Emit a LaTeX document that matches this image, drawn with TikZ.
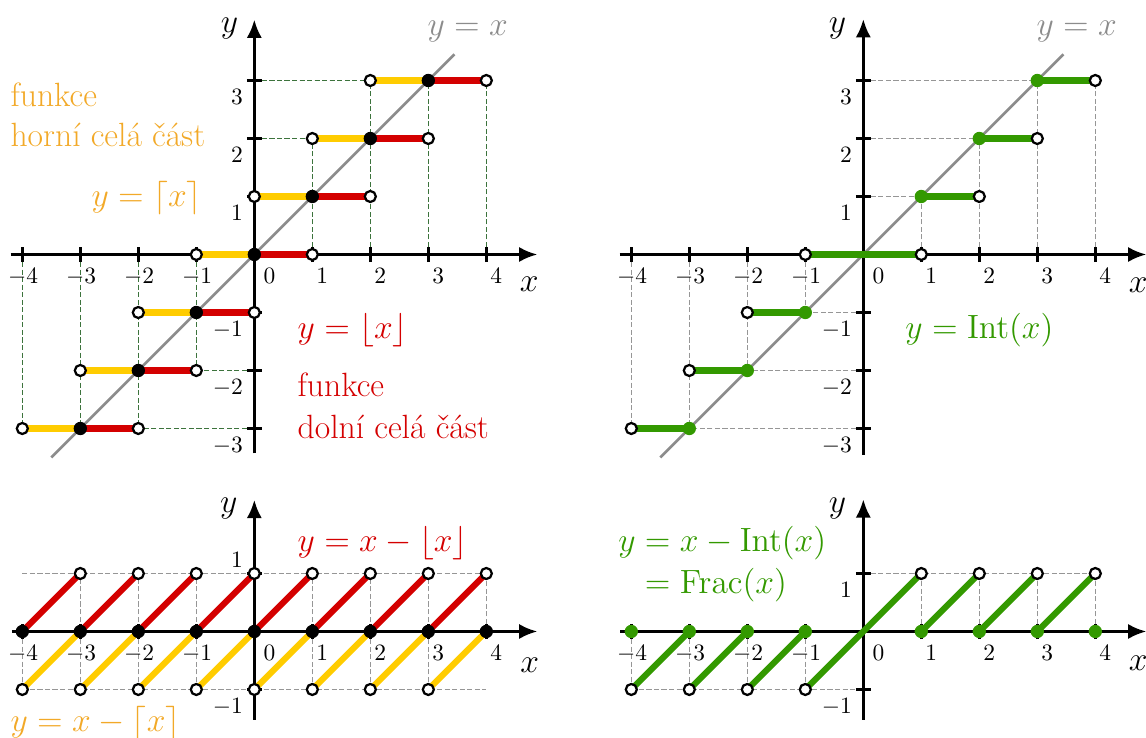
\RequirePackage{fix-cm}
\documentclass[tikz,border=0pt]{standalone}
\usetikzlibrary{arrows.meta}
\definecolor{cyel}{RGB}{255,204,0}
\definecolor{cred}{RGB}{212,0,0}
\definecolor{cgreen}{RGB}{51,153,0}
\definecolor{corange}{RGB}{242,169,40}
\definecolor{cgray}{RGB}{140,140,140}
\definecolor{cdgreen}{RGB}{60,115,60}
\definecolor{cdgray}{RGB}{150,150,150}
\tikzset{
  axisline/.style={line width=1.5pt,-{Latex[length=9pt,width=7.5pt]}},
  tk/.style={line width=1.5pt},
  diagline/.style={line width=1.3pt,draw=cgray},
  seg/.style={line width=3pt},
  gridg/.style={line width=0.45pt,draw=cdgreen,dash pattern=on 2.5pt off 1.2pt},
  gridk/.style={line width=0.45pt,draw=cdgray,dash pattern=on 2.5pt off 1.2pt},
  odot/.style={draw=black,fill=white,line width=1.1pt},
  ticklab/.style={inner sep=0pt,font=\fontsize{11.5}{14}\selectfont},
  lab/.style={inner sep=0pt,font=\fontsize{16.5}{20.5}\selectfont},
}
\begin{document}
\begin{tikzpicture}[x=1cm,y=1cm]
\useasboundingbox (-4.385,-8.336) rectangle (15.374,4.388);

% ================= TOP LEFT: floor / ceiling =================
\begin{scope}
  \foreach \k/\e in {-4/-3,-3/-3,-2/-3,-1/-2,1/2,2/3,3/3,4/3}
    \draw[gridg] (\k,0) -- (\k,\e);
  \foreach \k/\s in {-3/-4,-2/-3,2/1,3/2}
    \draw[gridg] (0,\k) -- (\s,\k);
  \draw[gridg] (0,3) -- (4,3);
  \draw[axisline] (-4.2,0) -- (4.88,0);
  \draw[axisline] (0,-3.43) -- (0,4.05);
  \foreach \k in {-4,-3,-2,-1,1,2,3,4} \draw[tk] (\k,-0.13) -- (\k,0.13);
  \foreach \k in {-3,-2,-1,1,2,3} \draw[tk] (-0.13,\k) -- (0.13,\k);
  \foreach \k in {1,2,3,4} \node[ticklab,anchor=north] (tlxp\k) at (\k+0.17,-0.23) {$\k$};
  \foreach \k in {1,2,3,4} \node[ticklab,anchor=north] (tlxm\k) at (-\k+0.17,-0.23) {\llap{$-$}$\k$};
  \node[ticklab,anchor=north] (tlx0) at (0.26,-0.23) {$0$};
  \foreach \k in {1,2,3} \node[ticklab,anchor=north east] (tlyp\k) at (-0.19,\k-0.14) {$\k$};
  \foreach \k in {1,2,3} \node[ticklab,anchor=north east] (tlym\k) at (-0.19,-\k-0.14) {$-\k$};
  \node[lab] (tlxl) at (4.74,-0.52) {$x$};
  \node[lab] (tlyl) at (-0.43,3.89) {$y$};
  \draw[diagline] (-3.5,-3.5) -- (3.45,3.45);
  \foreach \n in {-3,...,3} {
    \draw[seg,cyel] (\n-1,\n) -- (\n,\n);
    \draw[seg,cred] (\n,\n) -- (\n+1,\n);
  }
  \foreach \n in {-3,...,3} {
    \draw[odot] (\n-1,\n) circle (0.095);
    \draw[odot] (\n+1,\n) circle (0.095);
    \fill[black] (\n,\n) circle (0.115);
  }
  \node[lab,text=corange,anchor=base west] (hf1) at (-4.21,2.56) {funkce};
  \node[lab,text=corange,anchor=base west] (hf2) at (-4.21,1.86) {horní celá část};
  \node[lab,text=corange,anchor=base east] (hceil) at (-0.9,0.82) {$y=\lceil x\rceil$};
  \node[lab,text=cred,anchor=base west] (dfloor) at (0.74,-1.45) {$y=\lfloor x\rfloor$};
  \node[lab,text=cred,anchor=base west] (df1) at (0.74,-2.45) {funkce};
  \node[lab,text=cred,anchor=base west] (df2) at (0.74,-3.18) {dolní celá část};
  \node[lab,text=cgray,anchor=base west] (yx1) at (2.98,3.78) {$y=x$};
\end{scope}

% ================= TOP RIGHT: Int =================
\begin{scope}[shift={(10.5,0)}]
  \foreach \k/\e in {-4/-3,-3/-3,-2/-2,-1/-1,1/1,2/2,3/3,4/3}
    \draw[gridk] (\k,0) -- (\k,\e);
  \foreach \k/\s in {-3/-4,-2/-3,-1/-2,1/2,2/3,3/4}
    \draw[gridk] (0,\k) -- (\s,\k);
  \draw[axisline] (-4.2,0) -- (4.88,0);
  \draw[axisline] (0,-3.45) -- (0,4.06);
  \foreach \k in {-4,-3,-2,-1,1,2,3,4} \draw[tk] (\k,-0.13) -- (\k,0.13);
  \foreach \k in {-3,-2,-1,1,2,3} \draw[tk] (-0.13,\k) -- (0.13,\k);
  \foreach \k in {1,2,3,4} \node[ticklab,anchor=north] (trxp\k) at (\k+0.17,-0.23) {$\k$};
  \foreach \k in {1,2,3,4} \node[ticklab,anchor=north] (trxm\k) at (-\k+0.17,-0.23) {\llap{$-$}$\k$};
  \node[ticklab,anchor=north] (trx0) at (0.26,-0.23) {$0$};
  \foreach \k in {1,2,3} \node[ticklab,anchor=north east] (tryp\k) at (-0.19,\k-0.14) {$\k$};
  \foreach \k in {1,2,3} \node[ticklab,anchor=north east] (trym\k) at (-0.19,-\k-0.14) {$-\k$};
  \node[lab] (trxl) at (4.74,-0.53) {$x$};
  \node[lab] (tryl) at (-0.445,3.9) {$y$};
  \draw[diagline] (-3.5,-3.5) -- (3.45,3.45);
  \draw[seg,cgreen] (-1,0) -- (1,0);
  \foreach \n in {1,2,3} {
    \draw[seg,cgreen] (\n,\n) -- (\n+1,\n);
    \draw[seg,cgreen] (-\n-1,-\n) -- (-\n,-\n);
  }
  \draw[odot] (-1,0) circle (0.095);
  \draw[odot] (1,0) circle (0.095);
  \foreach \n in {1,2,3} {
    \draw[odot] (\n+1,\n) circle (0.095);
    \draw[odot] (-\n-1,-\n) circle (0.095);
    \fill[cgreen] (\n,\n) circle (0.115);
    \fill[cgreen] (-\n,-\n) circle (0.115);
  }
  \node[lab,text=cgreen,anchor=base west] (intl) at (0.72,-1.45) {$y=\mathrm{Int}(x)$};
  \node[lab,text=cgray,anchor=base west] (yx2) at (2.98,3.78) {$y=x$};
\end{scope}

% ================= BOTTOM LEFT =================
\begin{scope}[shift={(0,-6.5)}]
  \draw[gridk] (-4,1) -- (4,1);
  \draw[gridk] (-4,-1) -- (4,-1);
  \draw[gridk] (-4,0) -- (-4,-1);
  \draw[gridk] (4,0) -- (4,1);
  \foreach \k in {-3,...,3} \draw[gridk] (\k,-1) -- (\k,1);
  \draw[axisline] (-4.18,0) -- (4.88,0);
  \draw[axisline] (0,-1.52) -- (0,2.27);
  \foreach \k in {-4,-3,-2,-1,1,2,3,4} \draw[tk] (\k,-0.13) -- (\k,0.13);
  \foreach \k in {-1,1} \draw[tk] (-0.13,\k) -- (0.13,\k);
  \foreach \k in {1,2,3,4} \node[ticklab,anchor=north] (blxp\k) at (\k+0.17,-0.23) {$\k$};
  \foreach \k in {1,2,3,4} \node[ticklab,anchor=north] (blxm\k) at (-\k+0.17,-0.23) {\llap{$-$}$\k$};
  \node[ticklab,anchor=north] (blx0) at (0.26,-0.23) {$0$};
  \node[ticklab,anchor=south east] (blyp1) at (-0.19,1.1) {$1$};
  \node[ticklab,anchor=north east] (blym1) at (-0.19,-1.14) {$-1$};
  \node[lab] (blxl) at (4.75,-0.59) {$x$};
  \node[lab] (blyl) at (-0.44,2.12) {$y$};
  \foreach \n in {-4,...,3} \draw[seg,cred] (\n,0) -- (\n+1,1);
  \foreach \n in {-3,...,4} \draw[seg,cyel] (\n-1,-1) -- (\n,0);
  \foreach \n in {-3,...,4} \draw[odot] (\n,1) circle (0.095);
  \foreach \n in {-4,...,3} \draw[odot] (\n,-1) circle (0.095);
  \foreach \n in {-4,...,4} \fill[black] (\n,0) circle (0.115);
  \node[lab,text=cred,anchor=base west] (fracfl) at (0.74,1.38) {$y=x-\lfloor x\rfloor$};
  \node[lab,text=corange,anchor=base west] (fracce) at (-4.21,-1.72) {$y=x-\lceil x\rceil$};
\end{scope}

% ================= BOTTOM RIGHT =================
\begin{scope}[shift={(10.5,-6.5)}]
  \draw[gridk] (0,1) -- (4,1);
  \draw[gridk] (-4,-1) -- (0,-1);
  \foreach \k in {1,...,4} \draw[gridk] (\k,0) -- (\k,1);
  \foreach \k in {1,...,4} \draw[gridk] (-\k,0) -- (-\k,-1);
  \draw[axisline] (-4.19,0) -- (4.88,0);
  \draw[axisline] (0,-1.52) -- (0,2.28);
  \foreach \k in {-4,-3,-2,-1,1,2,3,4} \draw[tk] (\k,-0.13) -- (\k,0.13);
  \foreach \k in {-1,1} \draw[tk] (-0.13,\k) -- (0.13,\k);
  \foreach \k in {1,2,3,4} \node[ticklab,anchor=north] (brxp\k) at (\k+0.17,-0.23) {$\k$};
  \foreach \k in {1,2,3,4} \node[ticklab,anchor=north] (brxm\k) at (-\k+0.17,-0.23) {\llap{$-$}$\k$};
  \node[ticklab,anchor=north] (brx0) at (0.26,-0.23) {$0$};
  \node[ticklab,anchor=north east] (bryp1) at (-0.19,0.86) {$1$};
  \node[ticklab,anchor=north east] (brym1) at (-0.19,-1.14) {$-1$};
  \node[lab] (brxl) at (4.74,-0.54) {$x$};
  \node[lab] (bryl) at (-0.445,2.12) {$y$};
  \draw[seg,cgreen] (-1,-1) -- (1,1);
  \foreach \n in {1,2,3} \draw[seg,cgreen] (\n,0) -- (\n+1,1);
  \foreach \n in {2,3,4} \draw[seg,cgreen] (-\n,-1) -- (-\n+1,0);
  \foreach \n in {1,...,4} {
    \draw[odot] (\n,1) circle (0.095);
    \draw[odot] (-\n,-1) circle (0.095);
    \fill[cgreen] (\n,0) circle (0.115);
    \fill[cgreen] (-\n,0) circle (0.115);
  }
  \node[lab,text=cgreen,anchor=base west] (fr1) at (-4.23,1.38) {$y=x-\mathrm{Int}(x)$};
  \node[lab,text=cgreen,anchor=base west] (fr2) at (-4.23,0.65) {$\phantom{y}=\mathrm{Frac}(x)$};
\end{scope}
\end{tikzpicture}
\end{document}
